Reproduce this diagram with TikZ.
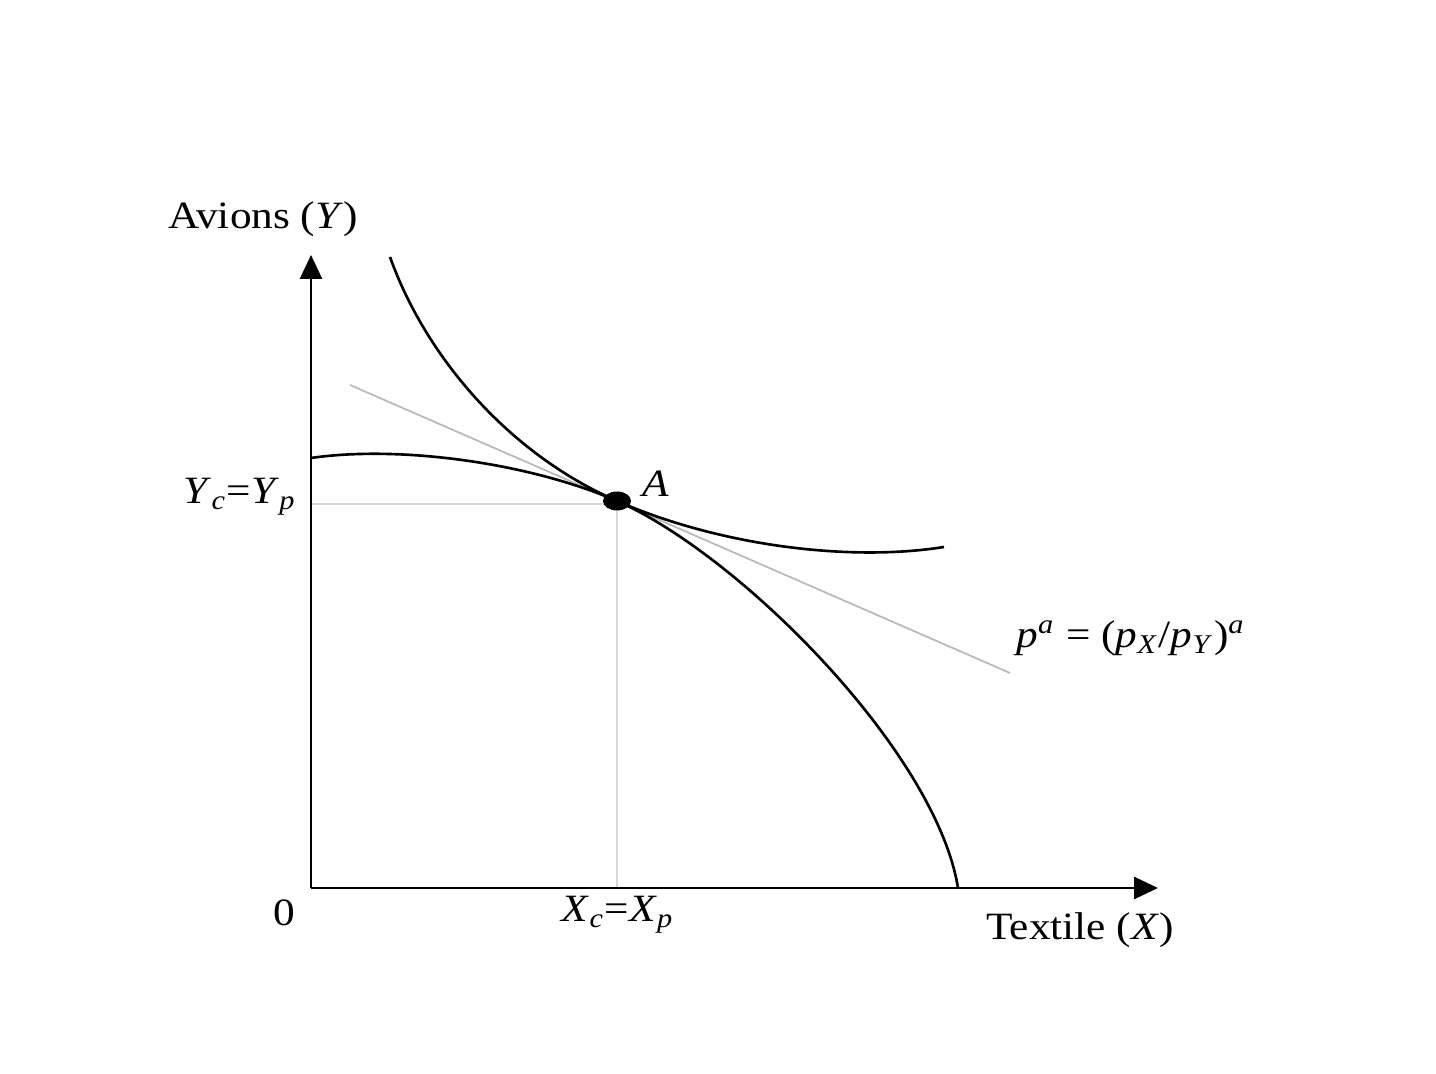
\documentclass[tikz,border=0pt]{standalone}
\usepackage{fontspec}
\setmainfont{Liberation Serif}
\usetikzlibrary{arrows.meta}
\newcommand{\vsub}[2]{\textit{#1}\textsubscript{\textit{#2}}}

\begin{document}
\begin{tikzpicture}[x=0.1mm,y=-0.1mm,
  axis/.style={line width=0.8pt,-{Triangle[length=2.4mm,width=2.2mm]}},
  curve/.style={line width=0.75pt},
  guide/.style={gray!30,line width=0.5pt},
  lbl/.style={font=\fontsize{11}{12}\selectfont,transform shape,xscale=1.12,inner sep=0pt}]
\useasboundingbox (0,0) rectangle (1436,1074);

\coordinate (O) at (311,888);
\coordinate (ytop) at (311,255);
\coordinate (xend) at (1158,888);
\coordinate (A) at (617,501);
\coordinate (Yc) at (311,504);
\coordinate (Xc) at (617,888);

% guides
\draw[guide] (Yc) -- (617,504) -- (Xc);
\draw[gray!55,line width=0.5pt] (350,385) coordinate (p1) -- (1010,673) coordinate (p2);

% axes
\draw[axis] (O) -- (ytop);
\draw[axis] (O) -- (xend);

% production frontier
\draw[curve] (311,458) .. controls (400,445) and (530,463) .. (A)
  .. controls (740,555) and (936,752) .. (958,888);
% indifference curve
\draw[curve] (390,257) .. controls (425,355) and (507,453) .. (A)
  .. controls (720,546) and (850,562) .. (944,547);

\fill (A) ellipse (14 and 9.5);

\node[lbl] (ylab) at (263,219) {Avions (\textit{Y})};
\node[lbl] (xlab) at (1080,930) {Textile (\textit{X})};
\node[lbl] (zero) at (284,913) {0};
\node[lbl] (xc) at (618,915) {\vsub{X}{c}=\vsub{X}{p}};
\node[lbl] (yc) at (240,497) {\vsub{Y}{c}=\vsub{Y}{p}};
\node[lbl] (alab) at (656,484) {\textit{A}};
\node[lbl] (plab) at (1131,638) {\textit{p}\textsuperscript{\textit{a}} = (\vsub{p}{X}/\vsub{p}{Y})\textsuperscript{\textit{a}}};
\end{tikzpicture}
\end{document}
